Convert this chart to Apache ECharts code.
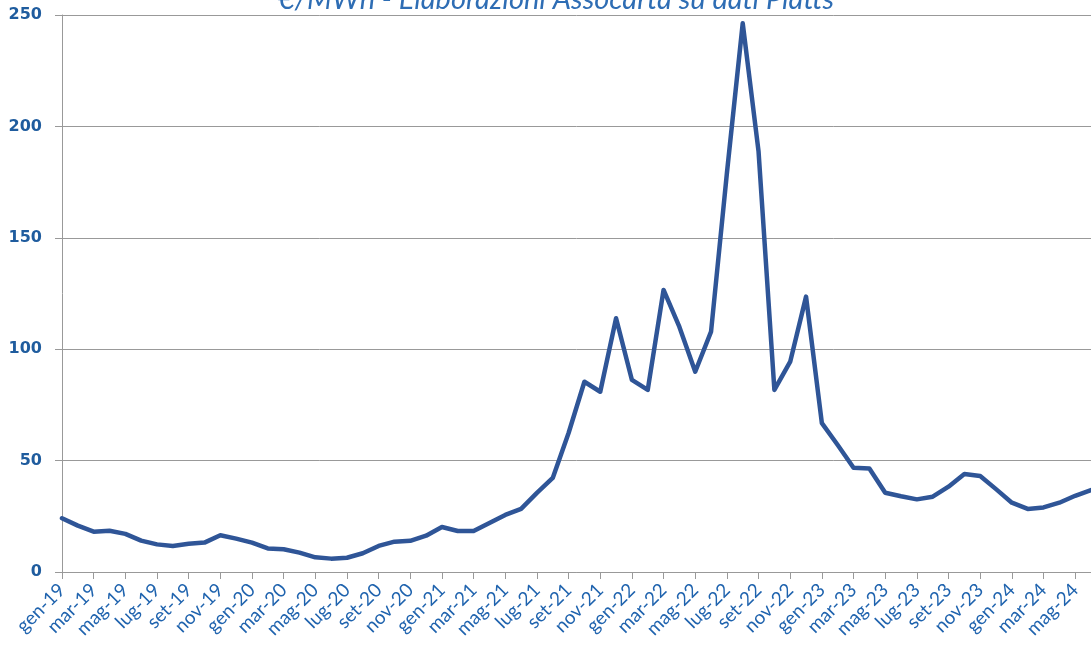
<!DOCTYPE html>
<html>
<head>
<meta charset="utf-8">
<script src="https://cdn.jsdelivr.net/npm/echarts@6/dist/echarts.min.js"></script>
<style>
html,body{margin:0;padding:0;background:#fff;}
#c{width:1091px;height:653px;}
</style>
</head>
<body>
<div id="c"></div>
<script>
const titleText = '€/MWh - Elaborazioni Assocarta su dati Platts';
const months = ['gen','feb','mar','apr','mag','giu','lug','ago','set','ott','nov','dic'];
const years = ['19','20','21','22','23','24'];
const categories = [];
years.forEach(y => months.forEach(m => categories.push(m + '-' + y)));
categories.length = 66; // gen-19 .. giu-24

const prices = [
  24.1, 20.8, 18.1, 18.5, 17.1, 14.1, 12.4, 11.7, 12.7, 13.2, 16.5, 15.0,
  13.2, 10.6, 10.2, 8.7, 6.6, 6.0, 6.4, 8.4, 11.7, 13.6, 14.0, 16.3,
  20.2, 18.4, 18.4, 22.0, 25.6, 28.3, 35.5, 42.2, 62.4, 85.4, 80.9, 113.9,
  86.2, 81.7, 126.6, 110.0, 89.9, 107.9, 179.0, 246.3, 188.7, 81.7, 94.4, 123.6,
  66.8, 57.0, 46.8, 46.5, 35.6, 34.0, 32.6, 33.8, 38.3, 44.0, 43.1, 37.2,
  31.1, 28.3, 29.0, 31.1, 34.2, 36.8
];
const yTicks = [0, 50, 100, 150, 200, 250];

const chart = echarts.init(document.getElementById('c'), null, {renderer: 'canvas'});
chart.setOption({
  animation: false,
  backgroundColor: '#ffffff',
  title: {
    text: titleText,
    left: 551,
    textAlign: 'center',
    top: -20,
    textStyle: {
      fontFamily: 'Lato',
      fontStyle: 'italic',
      fontWeight: 'normal',
      fontSize: 29,
      color: '#2E6DB4'
    }
  },
  grid: {left: 62, right: -4, top: 15, bottom: 81, containLabel: false},
  xAxis: {
    type: 'category',
    data: categories,
    boundaryGap: false,
    axisLine: {lineStyle: {color: '#999999', width: 1}},
    axisTick: {show: true, interval: 1, length: 7, lineStyle: {color: '#999999'}},
    axisLabel: {
      interval: 1,
      rotate: 45,
      margin: 15,
      fontFamily: 'Lato',
      fontSize: 19,
      color: '#1F63AE'
    },
    splitLine: {show: false}
  },
  yAxis: {
    type: 'value',
    min: yTicks[0],
    max: yTicks[yTicks.length - 1],
    interval: 50,
    axisLine: {show: true, lineStyle: {color: '#999999', width: 1}},
    axisTick: {show: true, length: 7, inside: false, lineStyle: {color: '#999999'}},
    axisLabel: {
      margin: 20,
      fontFamily: 'DejaVu Sans',
      fontWeight: 'bold',
      fontSize: 16,
      color: '#1F5C9E'
    },
    splitLine: {show: true, lineStyle: {color: '#999999', width: 1}}
  },
  series: [{
    type: 'line',
    data: prices,
    showSymbol: false,
    symbol: 'none',
    smooth: false,
    lineStyle: {color: '#2F5597', width: 4.5, cap: 'round', join: 'round'}
  }]
});
</script>
</body>
</html>
